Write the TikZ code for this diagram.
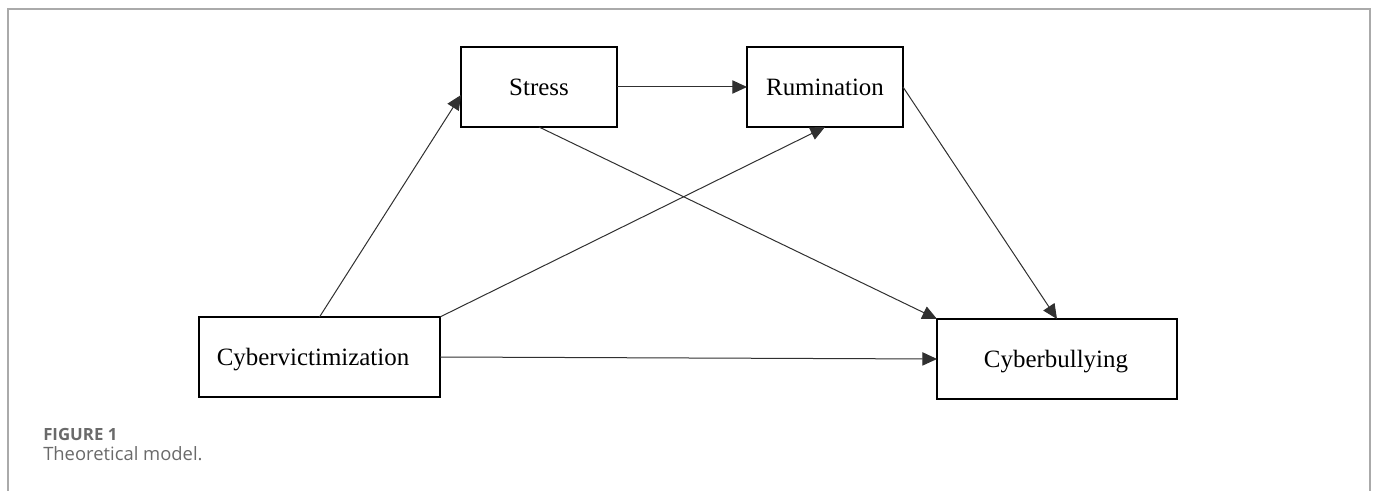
\documentclass[tikz,border=0pt]{standalone}
\usepackage{fontspec}
\setmainfont{Liberation Serif}
\newfontfamily\capfont{Open Sans}
\usetikzlibrary{arrows.meta,calc}
\definecolor{framegray}{HTML}{AAAAAA}
\definecolor{capgray}{HTML}{6A6A6A}
\definecolor{linegray}{HTML}{303030}
\tikzset{
  varbox/.style={draw=black, line width=2pt, rectangle, inner sep=0pt, outer sep=0pt,
    minimum height=60pt, font=\fontsize{18.7pt}{22pt}\selectfont},
  path/.style={draw=linegray, line width=0.75pt, -{Triangle[length=11pt,width=10pt]}},
  frameline/.style={draw=framegray, line width=1.1pt},
}
\begin{document}
\begin{tikzpicture}[x=0.75pt,y=-0.75pt]
\useasboundingbox (0,0) rectangle (1375,491);
% frame
\draw[frameline] (8,491) -- (8,9) -- (1370,9) -- (1370,491);
% boxes
\node[varbox, minimum width=117pt] (st) at (539,87) {Stress};
\node[varbox, minimum width=117pt] (ru) at (825,87) {Rumination};
\node[varbox, minimum width=180.75pt] (cv) at (319.5,357) {};
\node[font=\fontsize{18.7pt}{22pt}\selectfont] (cvt) at (313,360) {Cybervictimization};
\node[varbox, minimum width=180pt] (cb) at (1057,359) {};
\node[font=\fontsize{18.7pt}{22pt}\selectfont] (cbt) at (1056,362) {Cyberbullying};
% connectors
\draw[path] (st.east) -- (ru.west);
\draw[path] (cv.north) -- ($(st.west)+(0,8)$);
\draw[path] (cv.north east) -- (ru.south);
\draw[path] (cv.east) -- (cb.west);
\draw[path] (st.south) -- (cb.north west);
\draw[path] (ru.east) -- (cb.north);
% caption
\node[anchor=base west, inner sep=0pt, text=capgray, font=\capfont\bfseries\fontsize{12.6pt}{14pt}\selectfont] (fig) at (43,441) {FIGURE 1};
\node[anchor=base west, inner sep=0pt, text=capgray, font=\capfont\fontsize{13.8pt}{16pt}\selectfont] (cap) at (43,461) {Theoretical model.};
\end{tikzpicture}
\end{document}
